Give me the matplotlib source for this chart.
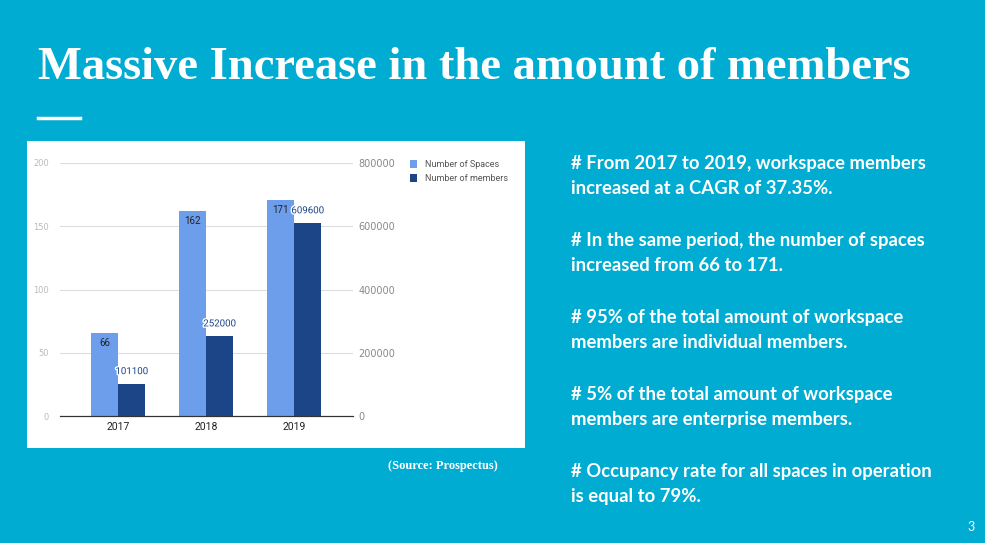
import matplotlib
matplotlib.use('Agg')
import matplotlib.pyplot as plt
import matplotlib.patheffects as pe
import numpy as np

years = ['2017', '2018', '2019']
spaces = [66, 162, 171]
members = [101100, 252000, 609600]
left_ticks = [0, 50, 100, 150, 200]
right_ticks = [0, 200000, 400000, 600000, 800000]
bullets = [
    '# From 2017 to 2019, workspace members\nincreased at a CAGR of 37.35%.',
    '# In the same period, the number of spaces\nincreased from 66 to 171.',
    '# 95% of the total amount of workspace\nmembers are individual members.',
    '# 5% of the total amount of workspace\nmembers are enterprise members.',
    '# Occupancy rate for all spaces in operation\nis equal to 79%.',
]

BG = '#00ACD1'
C_SP = '#6D9EEB'
C_MEM = '#1C4587'

W, H = 985, 543
fig = plt.figure(figsize=(W / 100, H / 100), dpi=100)
fig.patch.set_facecolor(BG)

fig.text(38 / W, 1 - 68 / H, 'Massive Increase in the amount of members',
         fontsize=33.5, fontweight='bold', family='Liberation Serif',
         color='white', va='center', ha='left')
fig.add_artist(plt.Line2D([38 / W, 80 / W], [1 - 118 / H] * 2,
                          color='white', lw=2.5))

# white card behind chart
card = fig.add_axes([27 / W, 1 - 448 / H, 498 / W, 307 / H])
card.set_facecolor('white')
card.set_xticks([]); card.set_yticks([])
for s in card.spines.values():
    s.set_visible(False)

ax = fig.add_axes([60 / W, 1 - 416 / H, 293 / W, 253 / H])
ax.set_facecolor('none')
ax2 = ax.twinx()
x = np.arange(len(years))
w = 0.31
b1 = ax.bar(x - w / 2, spaces, w, color=C_SP, label='Number of Spaces')
b2 = ax2.bar(x + w / 2, members, w, color=C_MEM, label='Number of members')
ax.set_xlim(-0.66, 2.67)
ax.set_ylim(0, 200)
ax2.set_ylim(0, 800000)
ax.set_yticks(left_ticks)
ax2.set_yticks(right_ticks)
ax.grid(axis='y', color='#DDDDDD', lw=0.8)
ax.set_axisbelow(True)
ax.set_xticks(x)
ax.set_xticklabels(years, fontsize=7.5, family='Roboto', color='#222222')
ax.tick_params(axis='y', labelsize=6, colors='#BBBBBB', length=0, pad=8)
ax2.tick_params(axis='y', labelsize=7, colors='#888888', length=0, pad=4)
ax.tick_params(axis='x', length=0, pad=4)
for a in (ax, ax2):
    for k in ('top', 'right', 'left'):
        a.spines[k].set_visible(False)
    a.spines['bottom'].set_color('#333333')

outline = [pe.withStroke(linewidth=2, foreground='white')]
for bar, v in zip(b1, spaces):
    ax.text(bar.get_x() + bar.get_width() / 2, v - 4, str(v), ha='center',
            va='top', fontsize=7, family='Roboto', color='#222222')
for bar, v in zip(b2, members):
    ax2.text(bar.get_x() + bar.get_width() / 2, v + 25000, str(v),
             ha='center', va='bottom', fontsize=7, family='Roboto',
             color=C_MEM, path_effects=outline)

h1, l1 = ax.get_legend_handles_labels()
h2, l2 = ax2.get_legend_handles_labels()
fig.legend(h1 + h2, l1 + l2, loc='upper left',
           bbox_to_anchor=(402 / W, 1 - 152 / H), frameon=False,
           handlelength=0.8, handleheight=1.0,
           labelcolor='#555555', prop={'family': 'Roboto', 'size': 6.5})

fig.text(498 / W, 1 - 466 / H, '(Source: Prospectus)', fontsize=9,
         fontweight='bold', family='Liberation Serif', color='white',
         ha='right', va='center')

for i, t in enumerate(bullets):
    fig.text(571 / W, 1 - (176 + i * 77) / H, t, fontsize=13.3,
             fontweight='bold', family='Lato', color='white',
             ha='left', va='center', linespacing=1.6)

fig.text(975 / W, 1 - 527 / H, '3', fontsize=9, color='white',
         ha='right', va='center', family='Lato')

fig.savefig('out.png', dpi=100, facecolor=BG)
